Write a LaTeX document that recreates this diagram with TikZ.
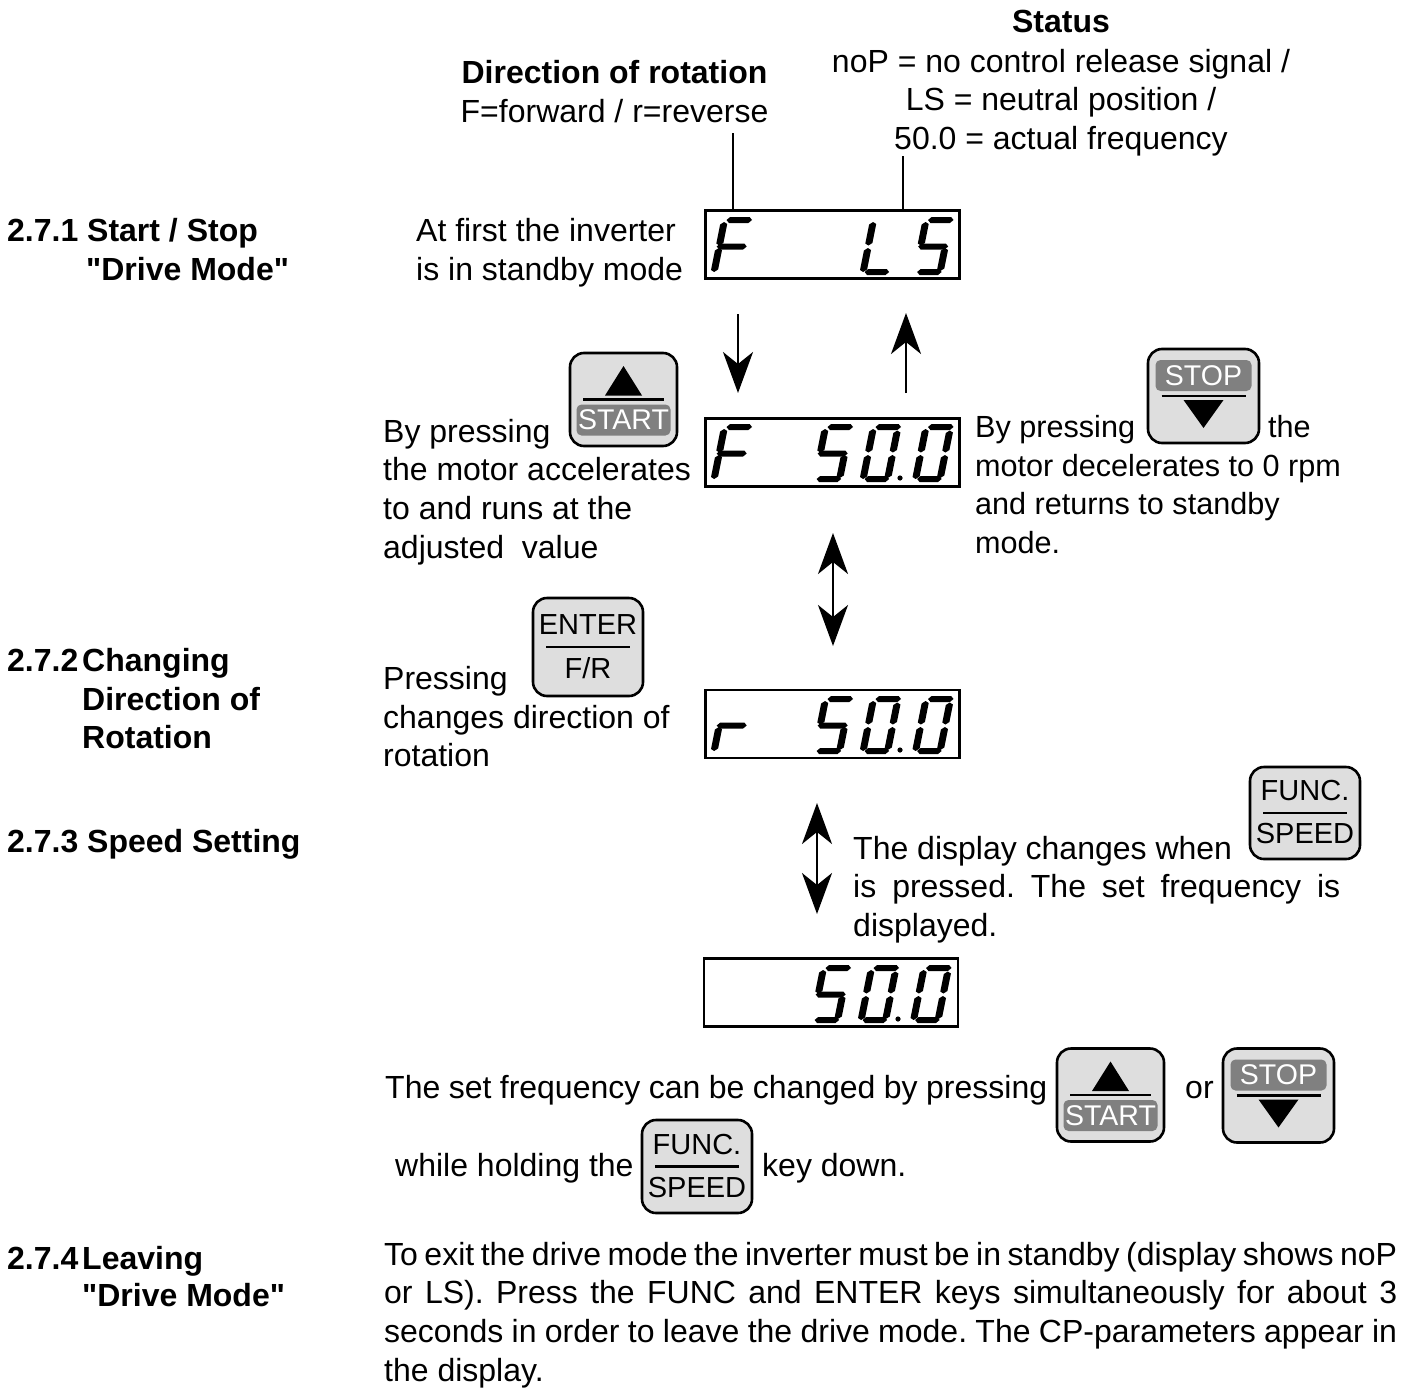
\documentclass[tikz,border=0pt]{standalone}
\usepackage{fontspec}
\newfontfamily\arialfont{Liberation Sans}
\usetikzlibrary{arrows.meta}

\newcommand{\bodyfont}{\arialfont\frenchspacing\fontsize{32}{38.7}\selectfont}
\newcommand{\stopfont}{\arialfont\fontsize{30.6}{38.7}\selectfont}
\newcommand{\barfont}{\arialfont\fontsize{28.5}{30}\selectfont}
\newcommand{\keyfont}{\arialfont\fontsize{29}{30}\selectfont}
\definecolor{keygray}{HTML}{DEDEDE}
\definecolor{bargray}{HTML}{808080}

\tikzset{
  txt/.style={anchor=base west, inner sep=0pt, align=left, font=\bodyfont},
  stoptxt/.style={txt, font=\stopfont},
  boldtxt/.style={txt, font=\bodyfont\bfseries},
  midtxt/.style={txt, anchor=base, align=center},
  dispbox/.style={draw, line width=2.6pt, minimum width=254pt, minimum height=68pt, inner sep=0pt},
  keybox/.style={draw, line width=2.6pt, fill=keygray, rounded corners=14pt, inner sep=0pt},
  keybar/.style={fill=bargray, rounded corners=5pt, text=white, font=\barfont, inner sep=0pt, minimum height=31pt},
  keytxt/.style={font=\keyfont, inner sep=0pt},
  keyline/.style={line width=2.4pt},
  thinline/.style={line width=2pt},
  bigarrow/.style={line width=2pt, -{Stealth[length=41pt,width=30pt,inset=12pt]}},
  bigboth/.style={line width=2pt, {Stealth[length=41pt,width=30pt,inset=12pt]}-{Stealth[length=41pt,width=30pt,inset=12pt]}},
}

\newcommand{\hseg}[3]{\fill (#1,#3) -- ++(3,-3) -- (#2-3,#3-3) -- (#2,#3) -- (#2-3,#3+3) -- (#1+3,#3+3) -- cycle;}
\newcommand{\vseg}[3]{\fill (#1,#2) -- ++(-3.5,2.5) -- (#1-3.5,#3-2) -- (#1,#3) -- (#1+3.5,#3-2.5) -- (#1+3.5,#2+2) -- cycle;}
\newcommand{\sega}{\hseg{5}{30.5}{-55}}
\newcommand{\segb}{\vseg{27.5}{-51.5}{-29.5}}
\newcommand{\segc}{\vseg{27.5}{-27}{-4}}
\newcommand{\segd}{\hseg{4.5}{29}{-3}}
\newcommand{\sege}{\vseg{3}{-27}{-3}}
\newcommand{\segf}{\vseg{3}{-53}{-29.5}}
\newcommand{\segg}{\hseg{.5}{30.5}{-28.5}}
\newcommand{\dispdigit}[3]{
  \begin{scope}[shift={(#1,#2)},xslant=.2]
    \foreach \s in {#3} {\csname seg\s\endcsname}
  \end{scope}
}
\newcommand{\fiftyzero}[2]{
  \dispdigit{#1+101}{#2}{a,f,g,c,d}
  \dispdigit{#1+149}{#2}{a,b,c,d,e,f}
  \dispdigit{#1+201.5}{#2}{a,b,c,d,e,f}
  \fill (#1+189.5,#2-4) circle (2.6);
}

\newcommand{\startkey}[3]{
  \begin{scope}[shift={(#2,#3)}]
    \node[keybox, minimum width=107pt, minimum height=93pt] (#1) at (0,0) {};
    \draw[keyline] (-40.5,0) -- (40.5,0);
    \fill (0,-33.5) -- (18.5,-4) -- (-18.5,-4) -- cycle;
    \node[keybar, minimum width=94pt] (#1bar) at (0,20.5) {START};
  \end{scope}
}
\newcommand{\stopkey}[3]{
  \begin{scope}[shift={(#2,#3)}]
    \node[keybox, minimum width=111pt, minimum height=94pt] (#1) at (0,0) {};
    \draw[keyline] (-42,0) -- (42,0);
    \fill (0,32) -- (20,4) -- (-20,4) -- cycle;
    \node[keybar, minimum width=96pt] (#1bar) at (0,-20.5) {STOP};
  \end{scope}
}
\newcommand{\wordkey}[6]{
  \begin{scope}[shift={(#2,#3)}]
    \node[keybox, minimum width=110pt, minimum height=#4pt] (#1) at (0,0) {};
    \draw[keyline] (-42,0) -- (42,0);
    \node[keytxt] (#1up) at (0,-22) {#5};
    \node[keytxt] (#1low) at (0,21) {#6};
  \end{scope}
}

\begin{document}
\begin{tikzpicture}[x=1pt,y=-1pt]
\useasboundingbox (0,0) rectangle (1413,1389);

\node[boldtxt] (headone) at (7,241) {2.7.1};
\node[boldtxt] (headonea) at (87,241) {Start / Stop};
\node[boldtxt] (headoneb) at (86,280) {"Drive Mode"};
\node[boldtxt] (headtwo) at (7,671) {2.7.2};
\node[boldtxt] (headtwoa) at (82,671) {Changing};
\node[boldtxt] (headtwob) at (82,710) {Direction of};
\node[boldtxt] (headtwoc) at (82,748) {Rotation};
\node[boldtxt] (headthree) at (7,852) {2.7.3};
\node[boldtxt] (headthreea) at (87,852) {Speed Setting};
\node[boldtxt] (headfour) at (7,1269) {2.7.4};
\node[boldtxt] (headfoura) at (82,1269) {Leaving};
\node[boldtxt] (headfourb) at (82,1306) {"Drive Mode"};

\node[boldtxt, anchor=base] (statushead) at (1061,33) {Status};
\node[midtxt] (statusa) at (1061,72) {noP = no control release signal /};
\node[midtxt] (statusb) at (1061,110) {LS = neutral position /};
\node[midtxt] (statusc) at (1061,149) {50.0 = actual frequency};
\node[boldtxt, anchor=base] (dirhead) at (614.5,83) {Direction of rotation};
\node[midtxt] (dirtext) at (614.5,122) {F=forward / r=reverse};

\node[dispbox] (lsdisp) at (832.5,244.5) {};
\node[dispbox] (fdisp) at (832.5,452.5) {};
\node[dispbox] (rdisp) at (832.5,724) {};
\node[dispbox] (setdisp) at (831,992.5) {};

\dispdigit{710.5}{275}{a,f,g,e}
\dispdigit{859.5}{275}{f,e,d}
\dispdigit{912}{275}{a,f,g,c,d}
\dispdigit{710.5}{482}{a,f,g,e}
\fiftyzero{710.5}{482}
\dispdigit{710.5}{754}{g,e}
\fiftyzero{710.5}{754}
\fiftyzero{708.5}{1023}

\coordinate (dirline) at (733,133);
\coordinate (statline) at (903,156);
\draw[thinline] (dirline) -- (dirline |- lsdisp.north);
\draw[thinline] (statline) -- (statline |- lsdisp.north);

\coordinate (downtop) at (738,314);
\coordinate (downend) at (738,393);
\coordinate (uptop) at (906,313);
\coordinate (upend) at (906,393);
\coordinate (bothatop) at (833,533);
\coordinate (bothaend) at (833,646);
\coordinate (bothbtop) at (817,803);
\coordinate (bothbend) at (817,914);
\draw[bigarrow] (downtop) -- (downend);
\draw[bigarrow] (upend) -- (uptop);
\draw[bigboth] (bothatop) -- (bothaend);
\draw[bigboth] (bothbtop) -- (bothbend);

\node[txt] (standby) at (416,241) {At first the inverter};
\node[txt] (standbyb) at (416,280) {is in standby mode};

\node[txt] (pressa) at (383,442) {By pressing};
\node[txt] (pressb) at (383,480) {the motor accelerates};
\node[txt] (pressc) at (383,519) {to and runs at the};
\node[txt] (pressd) at (383,558) {adjusted\ \ value};
\startkey{startone}{623.5}{399.5}

\node[stoptxt] (stopa) at (975,437) {By pressing};
\node[stoptxt] (stopthe) at (1268,437) {the};
\node[stoptxt] (stopb) at (975,476) {motor decelerates to 0 rpm};
\node[stoptxt] (stopc) at (975,514) {and returns to standby};
\node[stoptxt] (stopd) at (975,553) {mode.};
\stopkey{stopone}{1203.5}{396}

\node[txt] (changea) at (383,689) {Pressing};
\node[txt] (changeb) at (383,728) {changes direction of};
\node[txt] (changec) at (383,766) {rotation};
\wordkey{enterkey}{588}{647}{98}{ENTER}{F/R}

\node[txt] (showa) at (853,859) {The display changes when};
\node[txt] (showb) at (853,897) {\makebox[487pt][s]{is pressed. The set frequency is}};
\node[txt] (showc) at (853,936) {displayed.};
\wordkey{funcone}{1305}{813}{92}{FUNC.}{SPEED}

\node[txt] (seta) at (385,1098) {\makebox[662pt][s]{The set frequency can be changed by pressing}};
\startkey{starttwo}{1110.5}{1095}
\node[txt] (setor) at (1185,1098) {or};
\stopkey{stoptwo}{1278.5}{1095.5}
\node[txt] (setb) at (395,1176) {while holding the};
\wordkey{functwo}{697}{1166.5}{93}{FUNC.}{SPEED}
\node[txt] (setc) at (762,1176) {key down.};

\node[txt] (exita) at (384,1265) {\makebox[1013pt][s]{To exit the drive mode the inverter must be in standby (display shows noP}};
\node[txt] (exitb) at (384,1303) {\makebox[1013pt][s]{or LS). Press the FUNC and ENTER keys simultaneously for about 3}};
\node[txt] (exitc) at (384,1342) {\makebox[1013pt][s]{seconds in order to leave the drive mode. The CP-parameters appear in}};
\node[txt] (exitd) at (384,1381) {the display.};
\end{tikzpicture}
\end{document}
